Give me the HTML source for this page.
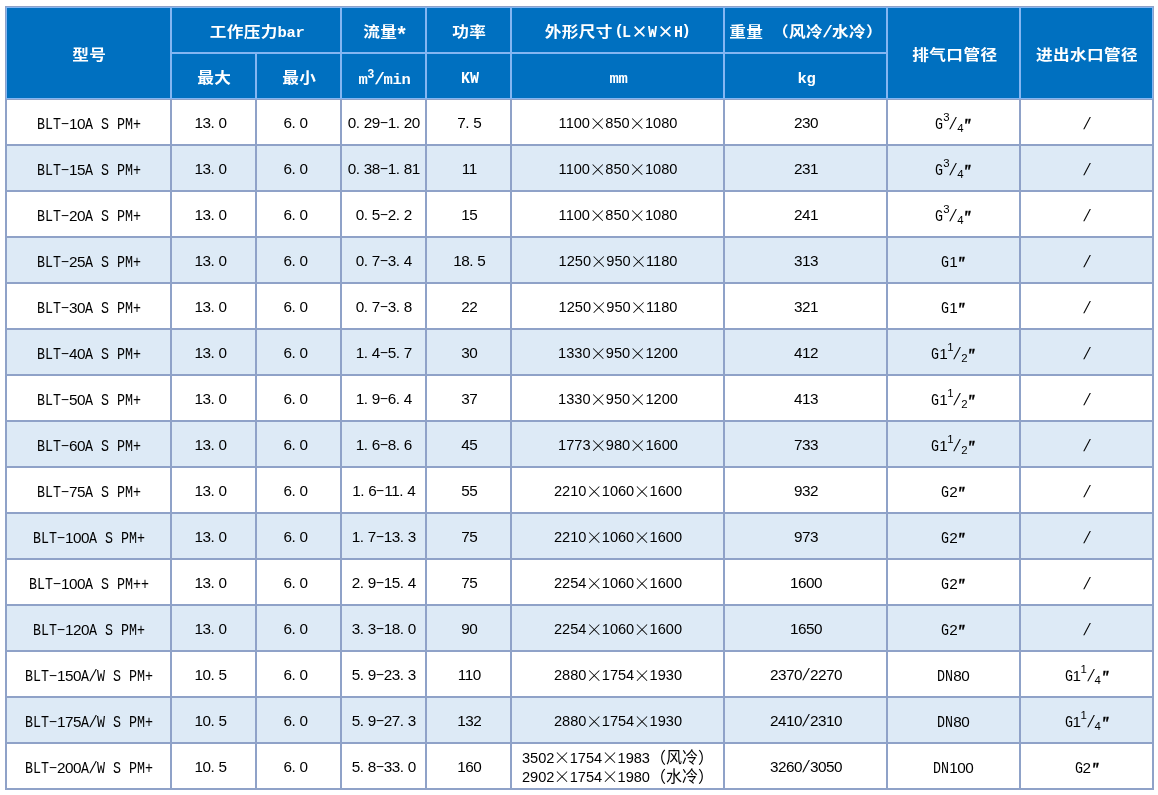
<!DOCTYPE html>
<html lang="zh-CN"><head><meta charset="utf-8"><title>BLT S PM+ 参数表</title>
<style>
html,body{margin:0;padding:0;background:#fff;}
body{width:1158px;height:795px;position:relative;overflow:hidden;
 font-family:"Liberation Mono","Noto Sans CJK SC",monospace;font-size:16px;color:#000;}
#grid{position:absolute;left:5px;top:6px;width:1149px;height:784px;background:#8fa2c8;}
#hl{position:absolute;left:1px;top:1px;width:1147px;height:92px;background:#84b6f2;}
.c{position:absolute;display:flex;align-items:center;justify-content:center;
 white-space:nowrap;line-height:19px;text-align:center;}
.h{background:#0070c0;color:#fff;font-weight:bold;}
.w{background:#fff;}
.b{background:#ddeaf6;}
.t{display:block;position:relative;}
.h .t{top:3.5px;left:1px;}
.w .t,.b .t{top:3.1px;}
.N .t{top:2.5px;}
.t span,.t i,.t sup,.t sub{line-height:0;}
i{font-style:normal;display:inline-block;white-space:pre;transform-origin:0 50%;}
/* latin letters: Liberation Mono squeezed to an 8px pitch */
.l{display:inline-block;text-align:left;}
.l>i{transform:scaleX(.8333);}
.h .l.U>i{font-size:16.5px;letter-spacing:0;transform:scaleX(.909);}
.h .l.o>i{transform:translate(1.6px,-1.6px) scaleY(.94);}
.h .l.e>i{transform:translate(-1.6px,-1.6px) scaleY(.94);}
.h .l>i{transform:none;font-size:15.5px;letter-spacing:-.3px;position:relative;top:0;}
/* digits: Liberation Sans, 8px pitch */
.d{font-family:"Liberation Sans",sans-serif;font-size:15.3px;letter-spacing:-.51px;}
/* dimension column: Arial-like 11pt digits */
.D .d{font-size:14.6px;letter-spacing:0;}
.D .x{width:15.3px;}
/* period, hyphen, slash in their own 8px cells */
.p,.m,.s,.a,.q{display:inline-block;text-align:left;width:8px;font-family:"Liberation Sans",sans-serif;}
.h .p,.h .m,.h .s,.h .a{width:9px;}
.p{font-size:15.3px;}
.m>i{position:relative;top:-1px;transform:translateX(-.4px) scale(1.72,.8);}
.s>i{transform-origin:50% 50%;transform:translateX(1.7px) skewX(-15deg) scaleY(1.03);}
.h .s>i{transform:translateX(2.2px) skewX(-22deg) scaleY(1.03);}
.a>i{font-size:22px;line-height:0;position:relative;top:3.5px;transform:translateX(.5px) scaleX(.95);}
.q>i{font-weight:bold;font-style:italic;font-size:16px;position:relative;top:2px;-webkit-text-stroke:.35px #000;transform:translateX(.9px) scaleX(.8);}
/* CJK runs */
.k{font-family:"Liberation Sans","Noto Sans CJK SC","WenQuanYi Zen Hei",sans-serif;}
.h .k{display:inline-block;transform:scale(1.04,.9);letter-spacing:.35px;position:relative;top:0px;}
.w .k,.b .k{position:relative;top:.9px;}
/* full-width multiplication sign */
.x{display:inline-flex;justify-content:center;width:16px;font-family:"Noto Sans CJK SC","IPAGothic",sans-serif;font-weight:300;font-size:17px;line-height:0;position:relative;top:1.9px;color:#000;}
.h .x{width:17px;font-weight:bold;color:#fff;top:.5px;font-size:16.5px;}
/* superscript / subscript digits */
.u,.v{display:inline-block;vertical-align:baseline;width:6px;text-align:left;font-family:"Liberation Sans",sans-serif;font-size:11.4px;line-height:0;position:relative;}
.u{top:-7.8px;}
.v{top:3.3px;}
.h .u{font-size:12px;width:7px;top:-6px;}
</style></head>
<body>
<div id="grid">
<div id="hl"></div>
<div class="c h" style="left:2px;top:2px;width:163px;height:90px"><span class="t"><span class="k" style="margin:0 0.65px">型号</span></span></div>
<div class="c h" style="left:167px;top:2px;width:168px;height:44px"><span class="t"><span class="k" style="margin:0 1.31px">工作压力</span><span class="l" style="width:27px"><i>bar</i></span></span></div>
<div class="c h" style="left:337px;top:2px;width:83px;height:44px"><span class="t"><span class="k" style="margin:0 0.65px">流量</span><span class="a"><i>*</i></span></span></div>
<div class="c h" style="left:422px;top:2px;width:83px;height:44px"><span class="t"><span class="k" style="margin:0 0.65px">功率</span></span></div>
<div class="c h" style="left:507px;top:2px;width:211px;height:44px"><span class="t"><span class="k" style="margin:0 1.31px">外形尺寸</span><span class="l o" style="width:9px"><i>(</i></span><span class="l U" style="width:9px"><i>L</i></span><span class="x">×</span><span class="l U" style="width:9px"><i>W</i></span><span class="x">×</span><span class="l U" style="width:9px"><i>H</i></span><span class="l e" style="width:9px"><i>)</i></span></span></div>
<div class="c h" style="left:720px;top:2px;width:161px;height:44px"><span class="t"><span class="k" style="margin:0 0.65px">重量</span><span class="l" style="width:9px"><i> </i></span><span class="k" style="margin:0 0.98px">（风冷</span><span class="s"><i>/</i></span><span class="k" style="margin:0 0.98px">水冷）</span></span></div>
<div class="c h" style="left:883px;top:2px;width:131px;height:90px"><span class="t"><span class="k" style="margin:0 1.64px">排气口管径</span></span></div>
<div class="c h" style="left:1016px;top:2px;width:131px;height:90px"><span class="t"><span class="k" style="margin:0 1.96px">进出水口管径</span></span></div>
<div class="c h" style="left:167px;top:48px;width:83px;height:44px"><span class="t"><span class="k" style="margin:0 0.65px">最大</span></span></div>
<div class="c h" style="left:252px;top:48px;width:83px;height:44px"><span class="t"><span class="k" style="margin:0 0.65px">最小</span></span></div>
<div class="c h" style="left:337px;top:48px;width:83px;height:44px"><span class="t" style="left:1px;top:4.7px"><span class="l" style="width:9px"><i>m</i></span><sup class="u">3</sup><span class="s"><i>/</i></span><span class="l" style="width:27px"><i>min</i></span></span></div>
<div class="c h" style="left:422px;top:48px;width:83px;height:44px"><span class="t"><span class="l U" style="width:18px"><i>KW</i></span></span></div>
<div class="c h" style="left:507px;top:48px;width:211px;height:44px"><span class="t"><span class="l" style="width:18px"><i>mm</i></span></span></div>
<div class="c h" style="left:720px;top:48px;width:161px;height:44px"><span class="t"><span class="l" style="width:18px"><i>kg</i></span></span></div>
<div class="c w" style="left:2px;top:94px;width:163px;height:44px"><span class="t" style="left:0.5px"><span class="l" style="width:24px"><i>BLT</i></span><span class="m"><i>-</i></span><span class="d">10</span><span class="l" style="width:56px"><i>A S PM+</i></span></span></div>
<div class="c w N" style="left:167px;top:94px;width:83px;height:44px"><span class="t" style="left:-3px"><span class="d">13</span><span class="p">.</span><span class="d">0</span></span></div>
<div class="c w N" style="left:252px;top:94px;width:83px;height:44px"><span class="t" style="left:-3px"><span class="d">6</span><span class="p">.</span><span class="d">0</span></span></div>
<div class="c w N" style="left:337px;top:94px;width:83px;height:44px"><span class="t" style="left:0.3px"><span class="d">0</span><span class="p">.</span><span class="d">29</span><span class="m"><i>-</i></span><span class="d">1</span><span class="p">.</span><span class="d">20</span></span></div>
<div class="c w N" style="left:422px;top:94px;width:83px;height:44px"><span class="t" style="left:0.8px"><span class="d">7</span><span class="p">.</span><span class="d">5</span></span></div>
<div class="c w D N" style="left:507px;top:94px;width:211px;height:44px"><span class="t" style="left:0.5px"><span class="d">1100</span><span class="x">×</span><span class="d">850</span><span class="x">×</span><span class="d">1080</span></span></div>
<div class="c w N" style="left:720px;top:94px;width:161px;height:44px"><span class="t" style="left:0.5px"><span class="d">230</span></span></div>
<div class="c w" style="left:883px;top:94px;width:131px;height:44px"><span class="t" style="left:-0.3px"><span class="l" style="width:8px"><i>G</i></span><sup class="u">3</sup><span class="s"><i>/</i></span><sub class="v">4</sub><span class="q"><i>″</i></span></span></div>
<div class="c w" style="left:1016px;top:94px;width:131px;height:44px"><span class="t"><span class="s"><i>/</i></span></span></div>
<div class="c b" style="left:2px;top:140px;width:163px;height:44px"><span class="t" style="left:0.5px"><span class="l" style="width:24px"><i>BLT</i></span><span class="m"><i>-</i></span><span class="d">15</span><span class="l" style="width:56px"><i>A S PM+</i></span></span></div>
<div class="c b N" style="left:167px;top:140px;width:83px;height:44px"><span class="t" style="left:-3px"><span class="d">13</span><span class="p">.</span><span class="d">0</span></span></div>
<div class="c b N" style="left:252px;top:140px;width:83px;height:44px"><span class="t" style="left:-3px"><span class="d">6</span><span class="p">.</span><span class="d">0</span></span></div>
<div class="c b N" style="left:337px;top:140px;width:83px;height:44px"><span class="t" style="left:0.3px"><span class="d">0</span><span class="p">.</span><span class="d">38</span><span class="m"><i>-</i></span><span class="d">1</span><span class="p">.</span><span class="d">81</span></span></div>
<div class="c b N" style="left:422px;top:140px;width:83px;height:44px"><span class="t" style="left:0.8px"><span class="d">11</span></span></div>
<div class="c b D N" style="left:507px;top:140px;width:211px;height:44px"><span class="t" style="left:0.5px"><span class="d">1100</span><span class="x">×</span><span class="d">850</span><span class="x">×</span><span class="d">1080</span></span></div>
<div class="c b N" style="left:720px;top:140px;width:161px;height:44px"><span class="t" style="left:0.5px"><span class="d">231</span></span></div>
<div class="c b" style="left:883px;top:140px;width:131px;height:44px"><span class="t" style="left:-0.3px"><span class="l" style="width:8px"><i>G</i></span><sup class="u">3</sup><span class="s"><i>/</i></span><sub class="v">4</sub><span class="q"><i>″</i></span></span></div>
<div class="c b" style="left:1016px;top:140px;width:131px;height:44px"><span class="t"><span class="s"><i>/</i></span></span></div>
<div class="c w" style="left:2px;top:186px;width:163px;height:44px"><span class="t" style="left:0.5px"><span class="l" style="width:24px"><i>BLT</i></span><span class="m"><i>-</i></span><span class="d">20</span><span class="l" style="width:56px"><i>A S PM+</i></span></span></div>
<div class="c w N" style="left:167px;top:186px;width:83px;height:44px"><span class="t" style="left:-3px"><span class="d">13</span><span class="p">.</span><span class="d">0</span></span></div>
<div class="c w N" style="left:252px;top:186px;width:83px;height:44px"><span class="t" style="left:-3px"><span class="d">6</span><span class="p">.</span><span class="d">0</span></span></div>
<div class="c w N" style="left:337px;top:186px;width:83px;height:44px"><span class="t" style="left:0.3px"><span class="d">0</span><span class="p">.</span><span class="d">5</span><span class="m"><i>-</i></span><span class="d">2</span><span class="p">.</span><span class="d">2</span></span></div>
<div class="c w N" style="left:422px;top:186px;width:83px;height:44px"><span class="t" style="left:0.8px"><span class="d">15</span></span></div>
<div class="c w D N" style="left:507px;top:186px;width:211px;height:44px"><span class="t" style="left:0.5px"><span class="d">1100</span><span class="x">×</span><span class="d">850</span><span class="x">×</span><span class="d">1080</span></span></div>
<div class="c w N" style="left:720px;top:186px;width:161px;height:44px"><span class="t" style="left:0.5px"><span class="d">241</span></span></div>
<div class="c w" style="left:883px;top:186px;width:131px;height:44px"><span class="t" style="left:-0.3px"><span class="l" style="width:8px"><i>G</i></span><sup class="u">3</sup><span class="s"><i>/</i></span><sub class="v">4</sub><span class="q"><i>″</i></span></span></div>
<div class="c w" style="left:1016px;top:186px;width:131px;height:44px"><span class="t"><span class="s"><i>/</i></span></span></div>
<div class="c b" style="left:2px;top:232px;width:163px;height:44px"><span class="t" style="left:0.5px"><span class="l" style="width:24px"><i>BLT</i></span><span class="m"><i>-</i></span><span class="d">25</span><span class="l" style="width:56px"><i>A S PM+</i></span></span></div>
<div class="c b N" style="left:167px;top:232px;width:83px;height:44px"><span class="t" style="left:-3px"><span class="d">13</span><span class="p">.</span><span class="d">0</span></span></div>
<div class="c b N" style="left:252px;top:232px;width:83px;height:44px"><span class="t" style="left:-3px"><span class="d">6</span><span class="p">.</span><span class="d">0</span></span></div>
<div class="c b N" style="left:337px;top:232px;width:83px;height:44px"><span class="t" style="left:0.3px"><span class="d">0</span><span class="p">.</span><span class="d">7</span><span class="m"><i>-</i></span><span class="d">3</span><span class="p">.</span><span class="d">4</span></span></div>
<div class="c b N" style="left:422px;top:232px;width:83px;height:44px"><span class="t" style="left:0.8px"><span class="d">18</span><span class="p">.</span><span class="d">5</span></span></div>
<div class="c b D N" style="left:507px;top:232px;width:211px;height:44px"><span class="t" style="left:0.5px"><span class="d">1250</span><span class="x">×</span><span class="d">950</span><span class="x">×</span><span class="d">1180</span></span></div>
<div class="c b N" style="left:720px;top:232px;width:161px;height:44px"><span class="t" style="left:0.5px"><span class="d">313</span></span></div>
<div class="c b" style="left:883px;top:232px;width:131px;height:44px"><span class="t" style="left:-0.3px"><span class="l" style="width:8px"><i>G</i></span><span class="d">1</span><span class="q"><i>″</i></span></span></div>
<div class="c b" style="left:1016px;top:232px;width:131px;height:44px"><span class="t"><span class="s"><i>/</i></span></span></div>
<div class="c w" style="left:2px;top:278px;width:163px;height:44px"><span class="t" style="left:0.5px"><span class="l" style="width:24px"><i>BLT</i></span><span class="m"><i>-</i></span><span class="d">30</span><span class="l" style="width:56px"><i>A S PM+</i></span></span></div>
<div class="c w N" style="left:167px;top:278px;width:83px;height:44px"><span class="t" style="left:-3px"><span class="d">13</span><span class="p">.</span><span class="d">0</span></span></div>
<div class="c w N" style="left:252px;top:278px;width:83px;height:44px"><span class="t" style="left:-3px"><span class="d">6</span><span class="p">.</span><span class="d">0</span></span></div>
<div class="c w N" style="left:337px;top:278px;width:83px;height:44px"><span class="t" style="left:0.3px"><span class="d">0</span><span class="p">.</span><span class="d">7</span><span class="m"><i>-</i></span><span class="d">3</span><span class="p">.</span><span class="d">8</span></span></div>
<div class="c w N" style="left:422px;top:278px;width:83px;height:44px"><span class="t" style="left:0.8px"><span class="d">22</span></span></div>
<div class="c w D N" style="left:507px;top:278px;width:211px;height:44px"><span class="t" style="left:0.5px"><span class="d">1250</span><span class="x">×</span><span class="d">950</span><span class="x">×</span><span class="d">1180</span></span></div>
<div class="c w N" style="left:720px;top:278px;width:161px;height:44px"><span class="t" style="left:0.5px"><span class="d">321</span></span></div>
<div class="c w" style="left:883px;top:278px;width:131px;height:44px"><span class="t" style="left:-0.3px"><span class="l" style="width:8px"><i>G</i></span><span class="d">1</span><span class="q"><i>″</i></span></span></div>
<div class="c w" style="left:1016px;top:278px;width:131px;height:44px"><span class="t"><span class="s"><i>/</i></span></span></div>
<div class="c b" style="left:2px;top:324px;width:163px;height:44px"><span class="t" style="left:0.5px"><span class="l" style="width:24px"><i>BLT</i></span><span class="m"><i>-</i></span><span class="d">40</span><span class="l" style="width:56px"><i>A S PM+</i></span></span></div>
<div class="c b N" style="left:167px;top:324px;width:83px;height:44px"><span class="t" style="left:-3px"><span class="d">13</span><span class="p">.</span><span class="d">0</span></span></div>
<div class="c b N" style="left:252px;top:324px;width:83px;height:44px"><span class="t" style="left:-3px"><span class="d">6</span><span class="p">.</span><span class="d">0</span></span></div>
<div class="c b N" style="left:337px;top:324px;width:83px;height:44px"><span class="t" style="left:0.3px"><span class="d">1</span><span class="p">.</span><span class="d">4</span><span class="m"><i>-</i></span><span class="d">5</span><span class="p">.</span><span class="d">7</span></span></div>
<div class="c b N" style="left:422px;top:324px;width:83px;height:44px"><span class="t" style="left:0.8px"><span class="d">30</span></span></div>
<div class="c b D N" style="left:507px;top:324px;width:211px;height:44px"><span class="t" style="left:0.5px"><span class="d">1330</span><span class="x">×</span><span class="d">950</span><span class="x">×</span><span class="d">1200</span></span></div>
<div class="c b N" style="left:720px;top:324px;width:161px;height:44px"><span class="t" style="left:0.5px"><span class="d">412</span></span></div>
<div class="c b" style="left:883px;top:324px;width:131px;height:44px"><span class="t" style="left:-0.3px"><span class="l" style="width:8px"><i>G</i></span><span class="d">1</span><sup class="u">1</sup><span class="s"><i>/</i></span><sub class="v">2</sub><span class="q"><i>″</i></span></span></div>
<div class="c b" style="left:1016px;top:324px;width:131px;height:44px"><span class="t"><span class="s"><i>/</i></span></span></div>
<div class="c w" style="left:2px;top:370px;width:163px;height:44px"><span class="t" style="left:0.5px"><span class="l" style="width:24px"><i>BLT</i></span><span class="m"><i>-</i></span><span class="d">50</span><span class="l" style="width:56px"><i>A S PM+</i></span></span></div>
<div class="c w N" style="left:167px;top:370px;width:83px;height:44px"><span class="t" style="left:-3px"><span class="d">13</span><span class="p">.</span><span class="d">0</span></span></div>
<div class="c w N" style="left:252px;top:370px;width:83px;height:44px"><span class="t" style="left:-3px"><span class="d">6</span><span class="p">.</span><span class="d">0</span></span></div>
<div class="c w N" style="left:337px;top:370px;width:83px;height:44px"><span class="t" style="left:0.3px"><span class="d">1</span><span class="p">.</span><span class="d">9</span><span class="m"><i>-</i></span><span class="d">6</span><span class="p">.</span><span class="d">4</span></span></div>
<div class="c w N" style="left:422px;top:370px;width:83px;height:44px"><span class="t" style="left:0.8px"><span class="d">37</span></span></div>
<div class="c w D N" style="left:507px;top:370px;width:211px;height:44px"><span class="t" style="left:0.5px"><span class="d">1330</span><span class="x">×</span><span class="d">950</span><span class="x">×</span><span class="d">1200</span></span></div>
<div class="c w N" style="left:720px;top:370px;width:161px;height:44px"><span class="t" style="left:0.5px"><span class="d">413</span></span></div>
<div class="c w" style="left:883px;top:370px;width:131px;height:44px"><span class="t" style="left:-0.3px"><span class="l" style="width:8px"><i>G</i></span><span class="d">1</span><sup class="u">1</sup><span class="s"><i>/</i></span><sub class="v">2</sub><span class="q"><i>″</i></span></span></div>
<div class="c w" style="left:1016px;top:370px;width:131px;height:44px"><span class="t"><span class="s"><i>/</i></span></span></div>
<div class="c b" style="left:2px;top:416px;width:163px;height:44px"><span class="t" style="left:0.5px"><span class="l" style="width:24px"><i>BLT</i></span><span class="m"><i>-</i></span><span class="d">60</span><span class="l" style="width:56px"><i>A S PM+</i></span></span></div>
<div class="c b N" style="left:167px;top:416px;width:83px;height:44px"><span class="t" style="left:-3px"><span class="d">13</span><span class="p">.</span><span class="d">0</span></span></div>
<div class="c b N" style="left:252px;top:416px;width:83px;height:44px"><span class="t" style="left:-3px"><span class="d">6</span><span class="p">.</span><span class="d">0</span></span></div>
<div class="c b N" style="left:337px;top:416px;width:83px;height:44px"><span class="t" style="left:0.3px"><span class="d">1</span><span class="p">.</span><span class="d">6</span><span class="m"><i>-</i></span><span class="d">8</span><span class="p">.</span><span class="d">6</span></span></div>
<div class="c b N" style="left:422px;top:416px;width:83px;height:44px"><span class="t" style="left:0.8px"><span class="d">45</span></span></div>
<div class="c b D N" style="left:507px;top:416px;width:211px;height:44px"><span class="t" style="left:0.5px"><span class="d">1773</span><span class="x">×</span><span class="d">980</span><span class="x">×</span><span class="d">1600</span></span></div>
<div class="c b N" style="left:720px;top:416px;width:161px;height:44px"><span class="t" style="left:0.5px"><span class="d">733</span></span></div>
<div class="c b" style="left:883px;top:416px;width:131px;height:44px"><span class="t" style="left:-0.3px"><span class="l" style="width:8px"><i>G</i></span><span class="d">1</span><sup class="u">1</sup><span class="s"><i>/</i></span><sub class="v">2</sub><span class="q"><i>″</i></span></span></div>
<div class="c b" style="left:1016px;top:416px;width:131px;height:44px"><span class="t"><span class="s"><i>/</i></span></span></div>
<div class="c w" style="left:2px;top:462px;width:163px;height:44px"><span class="t" style="left:0.5px"><span class="l" style="width:24px"><i>BLT</i></span><span class="m"><i>-</i></span><span class="d">75</span><span class="l" style="width:56px"><i>A S PM+</i></span></span></div>
<div class="c w N" style="left:167px;top:462px;width:83px;height:44px"><span class="t" style="left:-3px"><span class="d">13</span><span class="p">.</span><span class="d">0</span></span></div>
<div class="c w N" style="left:252px;top:462px;width:83px;height:44px"><span class="t" style="left:-3px"><span class="d">6</span><span class="p">.</span><span class="d">0</span></span></div>
<div class="c w N" style="left:337px;top:462px;width:83px;height:44px"><span class="t" style="left:0.3px"><span class="d">1</span><span class="p">.</span><span class="d">6</span><span class="m"><i>-</i></span><span class="d">11</span><span class="p">.</span><span class="d">4</span></span></div>
<div class="c w N" style="left:422px;top:462px;width:83px;height:44px"><span class="t" style="left:0.8px"><span class="d">55</span></span></div>
<div class="c w D N" style="left:507px;top:462px;width:211px;height:44px"><span class="t" style="left:0.5px"><span class="d">2210</span><span class="x">×</span><span class="d">1060</span><span class="x">×</span><span class="d">1600</span></span></div>
<div class="c w N" style="left:720px;top:462px;width:161px;height:44px"><span class="t" style="left:0.5px"><span class="d">932</span></span></div>
<div class="c w" style="left:883px;top:462px;width:131px;height:44px"><span class="t" style="left:-0.3px"><span class="l" style="width:8px"><i>G</i></span><span class="d">2</span><span class="q"><i>″</i></span></span></div>
<div class="c w" style="left:1016px;top:462px;width:131px;height:44px"><span class="t"><span class="s"><i>/</i></span></span></div>
<div class="c b" style="left:2px;top:508px;width:163px;height:44px"><span class="t" style="left:0.5px"><span class="l" style="width:24px"><i>BLT</i></span><span class="m"><i>-</i></span><span class="d">100</span><span class="l" style="width:56px"><i>A S PM+</i></span></span></div>
<div class="c b N" style="left:167px;top:508px;width:83px;height:44px"><span class="t" style="left:-3px"><span class="d">13</span><span class="p">.</span><span class="d">0</span></span></div>
<div class="c b N" style="left:252px;top:508px;width:83px;height:44px"><span class="t" style="left:-3px"><span class="d">6</span><span class="p">.</span><span class="d">0</span></span></div>
<div class="c b N" style="left:337px;top:508px;width:83px;height:44px"><span class="t" style="left:0.3px"><span class="d">1</span><span class="p">.</span><span class="d">7</span><span class="m"><i>-</i></span><span class="d">13</span><span class="p">.</span><span class="d">3</span></span></div>
<div class="c b N" style="left:422px;top:508px;width:83px;height:44px"><span class="t" style="left:0.8px"><span class="d">75</span></span></div>
<div class="c b D N" style="left:507px;top:508px;width:211px;height:44px"><span class="t" style="left:0.5px"><span class="d">2210</span><span class="x">×</span><span class="d">1060</span><span class="x">×</span><span class="d">1600</span></span></div>
<div class="c b N" style="left:720px;top:508px;width:161px;height:44px"><span class="t" style="left:0.5px"><span class="d">973</span></span></div>
<div class="c b" style="left:883px;top:508px;width:131px;height:44px"><span class="t" style="left:-0.3px"><span class="l" style="width:8px"><i>G</i></span><span class="d">2</span><span class="q"><i>″</i></span></span></div>
<div class="c b" style="left:1016px;top:508px;width:131px;height:44px"><span class="t"><span class="s"><i>/</i></span></span></div>
<div class="c w" style="left:2px;top:554px;width:163px;height:44px"><span class="t" style="left:0.5px"><span class="l" style="width:24px"><i>BLT</i></span><span class="m"><i>-</i></span><span class="d">100</span><span class="l" style="width:64px"><i>A S PM++</i></span></span></div>
<div class="c w N" style="left:167px;top:554px;width:83px;height:44px"><span class="t" style="left:-3px"><span class="d">13</span><span class="p">.</span><span class="d">0</span></span></div>
<div class="c w N" style="left:252px;top:554px;width:83px;height:44px"><span class="t" style="left:-3px"><span class="d">6</span><span class="p">.</span><span class="d">0</span></span></div>
<div class="c w N" style="left:337px;top:554px;width:83px;height:44px"><span class="t" style="left:0.3px"><span class="d">2</span><span class="p">.</span><span class="d">9</span><span class="m"><i>-</i></span><span class="d">15</span><span class="p">.</span><span class="d">4</span></span></div>
<div class="c w N" style="left:422px;top:554px;width:83px;height:44px"><span class="t" style="left:0.8px"><span class="d">75</span></span></div>
<div class="c w D N" style="left:507px;top:554px;width:211px;height:44px"><span class="t" style="left:0.5px"><span class="d">2254</span><span class="x">×</span><span class="d">1060</span><span class="x">×</span><span class="d">1600</span></span></div>
<div class="c w N" style="left:720px;top:554px;width:161px;height:44px"><span class="t" style="left:0.5px"><span class="d">1600</span></span></div>
<div class="c w" style="left:883px;top:554px;width:131px;height:44px"><span class="t" style="left:-0.3px"><span class="l" style="width:8px"><i>G</i></span><span class="d">2</span><span class="q"><i>″</i></span></span></div>
<div class="c w" style="left:1016px;top:554px;width:131px;height:44px"><span class="t"><span class="s"><i>/</i></span></span></div>
<div class="c b" style="left:2px;top:600px;width:163px;height:44px"><span class="t" style="left:0.5px"><span class="l" style="width:24px"><i>BLT</i></span><span class="m"><i>-</i></span><span class="d">120</span><span class="l" style="width:56px"><i>A S PM+</i></span></span></div>
<div class="c b N" style="left:167px;top:600px;width:83px;height:44px"><span class="t" style="left:-3px"><span class="d">13</span><span class="p">.</span><span class="d">0</span></span></div>
<div class="c b N" style="left:252px;top:600px;width:83px;height:44px"><span class="t" style="left:-3px"><span class="d">6</span><span class="p">.</span><span class="d">0</span></span></div>
<div class="c b N" style="left:337px;top:600px;width:83px;height:44px"><span class="t" style="left:0.3px"><span class="d">3</span><span class="p">.</span><span class="d">3</span><span class="m"><i>-</i></span><span class="d">18</span><span class="p">.</span><span class="d">0</span></span></div>
<div class="c b N" style="left:422px;top:600px;width:83px;height:44px"><span class="t" style="left:0.8px"><span class="d">90</span></span></div>
<div class="c b D N" style="left:507px;top:600px;width:211px;height:44px"><span class="t" style="left:0.5px"><span class="d">2254</span><span class="x">×</span><span class="d">1060</span><span class="x">×</span><span class="d">1600</span></span></div>
<div class="c b N" style="left:720px;top:600px;width:161px;height:44px"><span class="t" style="left:0.5px"><span class="d">1650</span></span></div>
<div class="c b" style="left:883px;top:600px;width:131px;height:44px"><span class="t" style="left:-0.3px"><span class="l" style="width:8px"><i>G</i></span><span class="d">2</span><span class="q"><i>″</i></span></span></div>
<div class="c b" style="left:1016px;top:600px;width:131px;height:44px"><span class="t"><span class="s"><i>/</i></span></span></div>
<div class="c w" style="left:2px;top:646px;width:163px;height:44px"><span class="t" style="left:0.5px"><span class="l" style="width:24px"><i>BLT</i></span><span class="m"><i>-</i></span><span class="d">150</span><span class="l" style="width:8px"><i>A</i></span><span class="s"><i>/</i></span><span class="l" style="width:56px"><i>W S PM+</i></span></span></div>
<div class="c w N" style="left:167px;top:646px;width:83px;height:44px"><span class="t" style="left:-3px"><span class="d">10</span><span class="p">.</span><span class="d">5</span></span></div>
<div class="c w N" style="left:252px;top:646px;width:83px;height:44px"><span class="t" style="left:-3px"><span class="d">6</span><span class="p">.</span><span class="d">0</span></span></div>
<div class="c w N" style="left:337px;top:646px;width:83px;height:44px"><span class="t" style="left:0.3px"><span class="d">5</span><span class="p">.</span><span class="d">9</span><span class="m"><i>-</i></span><span class="d">23</span><span class="p">.</span><span class="d">3</span></span></div>
<div class="c w N" style="left:422px;top:646px;width:83px;height:44px"><span class="t" style="left:0.8px"><span class="d">110</span></span></div>
<div class="c w D N" style="left:507px;top:646px;width:211px;height:44px"><span class="t" style="left:0.5px"><span class="d">2880</span><span class="x">×</span><span class="d">1754</span><span class="x">×</span><span class="d">1930</span></span></div>
<div class="c w N" style="left:720px;top:646px;width:161px;height:44px"><span class="t" style="left:0.5px"><span class="d">2370</span><span class="s"><i>/</i></span><span class="d">2270</span></span></div>
<div class="c w" style="left:883px;top:646px;width:131px;height:44px"><span class="t" style="left:-0.3px"><span class="l" style="width:16px"><i>DN</i></span><span class="d">80</span></span></div>
<div class="c w" style="left:1016px;top:646px;width:131px;height:44px"><span class="t"><span class="l" style="width:8px"><i>G</i></span><span class="d">1</span><sup class="u">1</sup><span class="s"><i>/</i></span><sub class="v">4</sub><span class="q"><i>″</i></span></span></div>
<div class="c b" style="left:2px;top:692px;width:163px;height:44px"><span class="t" style="left:0.5px"><span class="l" style="width:24px"><i>BLT</i></span><span class="m"><i>-</i></span><span class="d">175</span><span class="l" style="width:8px"><i>A</i></span><span class="s"><i>/</i></span><span class="l" style="width:56px"><i>W S PM+</i></span></span></div>
<div class="c b N" style="left:167px;top:692px;width:83px;height:44px"><span class="t" style="left:-3px"><span class="d">10</span><span class="p">.</span><span class="d">5</span></span></div>
<div class="c b N" style="left:252px;top:692px;width:83px;height:44px"><span class="t" style="left:-3px"><span class="d">6</span><span class="p">.</span><span class="d">0</span></span></div>
<div class="c b N" style="left:337px;top:692px;width:83px;height:44px"><span class="t" style="left:0.3px"><span class="d">5</span><span class="p">.</span><span class="d">9</span><span class="m"><i>-</i></span><span class="d">27</span><span class="p">.</span><span class="d">3</span></span></div>
<div class="c b N" style="left:422px;top:692px;width:83px;height:44px"><span class="t" style="left:0.8px"><span class="d">132</span></span></div>
<div class="c b D N" style="left:507px;top:692px;width:211px;height:44px"><span class="t" style="left:0.5px"><span class="d">2880</span><span class="x">×</span><span class="d">1754</span><span class="x">×</span><span class="d">1930</span></span></div>
<div class="c b N" style="left:720px;top:692px;width:161px;height:44px"><span class="t" style="left:0.5px"><span class="d">2410</span><span class="s"><i>/</i></span><span class="d">2310</span></span></div>
<div class="c b" style="left:883px;top:692px;width:131px;height:44px"><span class="t" style="left:-0.3px"><span class="l" style="width:16px"><i>DN</i></span><span class="d">80</span></span></div>
<div class="c b" style="left:1016px;top:692px;width:131px;height:44px"><span class="t"><span class="l" style="width:8px"><i>G</i></span><span class="d">1</span><sup class="u">1</sup><span class="s"><i>/</i></span><sub class="v">4</sub><span class="q"><i>″</i></span></span></div>
<div class="c w" style="left:2px;top:738px;width:163px;height:44px"><span class="t" style="left:0.5px"><span class="l" style="width:24px"><i>BLT</i></span><span class="m"><i>-</i></span><span class="d">200</span><span class="l" style="width:8px"><i>A</i></span><span class="s"><i>/</i></span><span class="l" style="width:56px"><i>W S PM+</i></span></span></div>
<div class="c w N" style="left:167px;top:738px;width:83px;height:44px"><span class="t" style="left:-3px"><span class="d">10</span><span class="p">.</span><span class="d">5</span></span></div>
<div class="c w N" style="left:252px;top:738px;width:83px;height:44px"><span class="t" style="left:-3px"><span class="d">6</span><span class="p">.</span><span class="d">0</span></span></div>
<div class="c w N" style="left:337px;top:738px;width:83px;height:44px"><span class="t" style="left:0.3px"><span class="d">5</span><span class="p">.</span><span class="d">8</span><span class="m"><i>-</i></span><span class="d">33</span><span class="p">.</span><span class="d">0</span></span></div>
<div class="c w N" style="left:422px;top:738px;width:83px;height:44px"><span class="t" style="left:0.8px"><span class="d">160</span></span></div>
<div class="c w D N" style="left:507px;top:738px;width:211px;height:44px"><span class="t" style="left:0.5px"><span class="d">3502</span><span class="x">×</span><span class="d">1754</span><span class="x">×</span><span class="d">1983</span><span class="k">（风冷）</span><br><span class="d">2902</span><span class="x">×</span><span class="d">1754</span><span class="x">×</span><span class="d">1980</span><span class="k">（水冷）</span></span></div>
<div class="c w N" style="left:720px;top:738px;width:161px;height:44px"><span class="t" style="left:0.5px"><span class="d">3260</span><span class="s"><i>/</i></span><span class="d">3050</span></span></div>
<div class="c w" style="left:883px;top:738px;width:131px;height:44px"><span class="t" style="left:-0.3px"><span class="l" style="width:16px"><i>DN</i></span><span class="d">100</span></span></div>
<div class="c w" style="left:1016px;top:738px;width:131px;height:44px"><span class="t"><span class="l" style="width:8px"><i>G</i></span><span class="d">2</span><span class="q"><i>″</i></span></span></div>
</div>
</body></html>
